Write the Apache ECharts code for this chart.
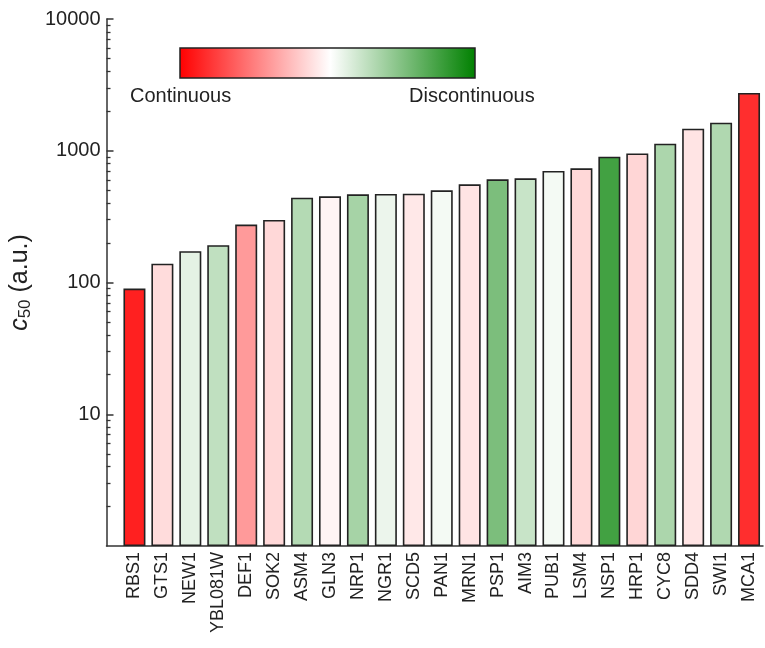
<!DOCTYPE html>
<html>
<head>
<meta charset="utf-8">
<script src="https://cdn.jsdelivr.net/npm/echarts@6/dist/echarts.min.js"></script>
<style>html,body{margin:0;padding:0;background:#fff;}#c{width:765px;height:648px;}</style>
</head>
<body>
<div id="c"></div>
<script>
const categories = ['RBS1','GTS1','NEW1','YBL081W','DEF1','SOK2','ASM4','GLN3','NRP1','NGR1','SCD5','PAN1','MRN1','PSP1','AIM3','PUB1','LSM4','NSP1','HRP1','CYC8','SDD4','SWI1','MCA1'];
const c50Values = [90, 139, 173, 192, 275, 298, 440, 451, 467, 470, 472, 501, 556, 607, 618, 702, 736, 902, 955, 1132, 1472, 1633, 2743];
// continuity score: -1 = continuous (red), +1 = discontinuous (green)
const continuityScore = [-0.875, -0.137, 0.106, 0.247, -0.396, -0.153, 0.294, -0.043, 0.35, 0.075, -0.09, 0.043, -0.106, 0.514, 0.216, 0.043, -0.153, 0.741, -0.16, 0.325, -0.106, 0.31, -0.82];
const majorTicks = [10, 100, 1000, 10000];
const minorTicks = [2,3,4,5,6,7,8,9,20,30,40,50,60,70,80,90,200,300,400,500,600,700,800,900,2000,3000,4000,5000,6000,7000,8000,9000];
const legendLabels = ['Continuous', 'Discontinuous'];

const FONT = '"Liberation Sans", Arial, sans-serif';
const TXT = '#222';

const chart = echarts.init(document.getElementById('c'), null, {renderer: 'canvas'});
const data = categories.map((c, i) => [i, c50Values[i], continuityScore[i]]);
const catIndex = categories.map((c, i) => i);

chart.setOption({
  animation: false,
  backgroundColor: '#fff',
  grid: {left: 105, right: 2, top: 19, bottom: 102, containLabel: false},
  xAxis: {
    type: 'value',
    min: -1, max: 22.5,
    splitLine: {show: false},
    axisLine: {show: true, onZero: false, lineStyle: {color: '#333', width: 1.5}},
    axisTick: {show: false},
    axisLabel: {
      customValues: catIndex,
      formatter: v => categories[Math.round(v)] || '',
      rotate: 90, fontSize: 18, fontFamily: FONT, color: TXT, margin: 6
    }
  },
  yAxis: [{
    type: 'log', logBase: 10, min: 1, max: 10000,
    position: 'left',
    axisLine: {show: true, onZero: false, lineStyle: {color: '#333', width: 1.5}},
    axisTick: {show: true, inside: true, length: 7, customValues: majorTicks, lineStyle: {color: '#333', width: 1.5}},
    axisLabel: {customValues: majorTicks, formatter: v => String(Math.round(v)), fontSize: 20, fontFamily: FONT, color: TXT, margin: 6},
    splitLine: {show: false},
    name: '{i|c}{s|50}{n| (a.u.)}',
    nameLocation: 'middle',
    nameRotate: 90,
    nameGap: 52,
    nameTextStyle: {
      rich: {
        i: {fontSize: 25, fontStyle: 'italic', fontFamily: FONT, color: TXT},
        s: {fontSize: 17, fontFamily: FONT, color: TXT, verticalAlign: 'bottom', padding: [10, 0, 0, 0]},
        n: {fontSize: 25, fontFamily: FONT, color: TXT}
      }
    }
  }, {
    type: 'log', logBase: 10, min: 1, max: 10000,
    position: 'left', offset: 0,
    axisLine: {show: false, onZero: false},
    axisTick: {show: true, inside: true, length: 4, customValues: minorTicks, lineStyle: {color: '#333', width: 1.3}},
    axisLabel: {show: false},
    splitLine: {show: false}
  }],
  visualMap: {
    show: false, type: 'continuous', dimension: 2, min: -1, max: 1, seriesIndex: 0,
    inRange: {color: ['#ff0000', '#ffffff', '#008000']}
  },
  series: [{
    type: 'bar',
    data: data,
    encode: {x: 0, y: 1},
    barWidth: 22,
    itemStyle: {borderColor: '#222', borderWidth: 1.6}
  }],
  graphic: [
    {type: 'rect', shape: {x: 180, y: 48, width: 295, height: 30},
     style: {
       fill: new echarts.graphic.LinearGradient(0, 0, 1, 0, [
         {offset: 0, color: '#ff0000'}, {offset: 0.51, color: '#ffffff'}, {offset: 1, color: '#008000'}
       ]),
       stroke: '#222', lineWidth: 1.5
     }},
    {type: 'text', x: 130, y: 96, style: {text: legendLabels[0], font: '20px ' + FONT, fill: TXT, verticalAlign: 'middle', align: 'left'}},
    {type: 'text', x: 409, y: 96, style: {text: legendLabels[1], font: '20px ' + FONT, fill: TXT, verticalAlign: 'middle', align: 'left'}}
  ]
});
</script>
</body>
</html>
